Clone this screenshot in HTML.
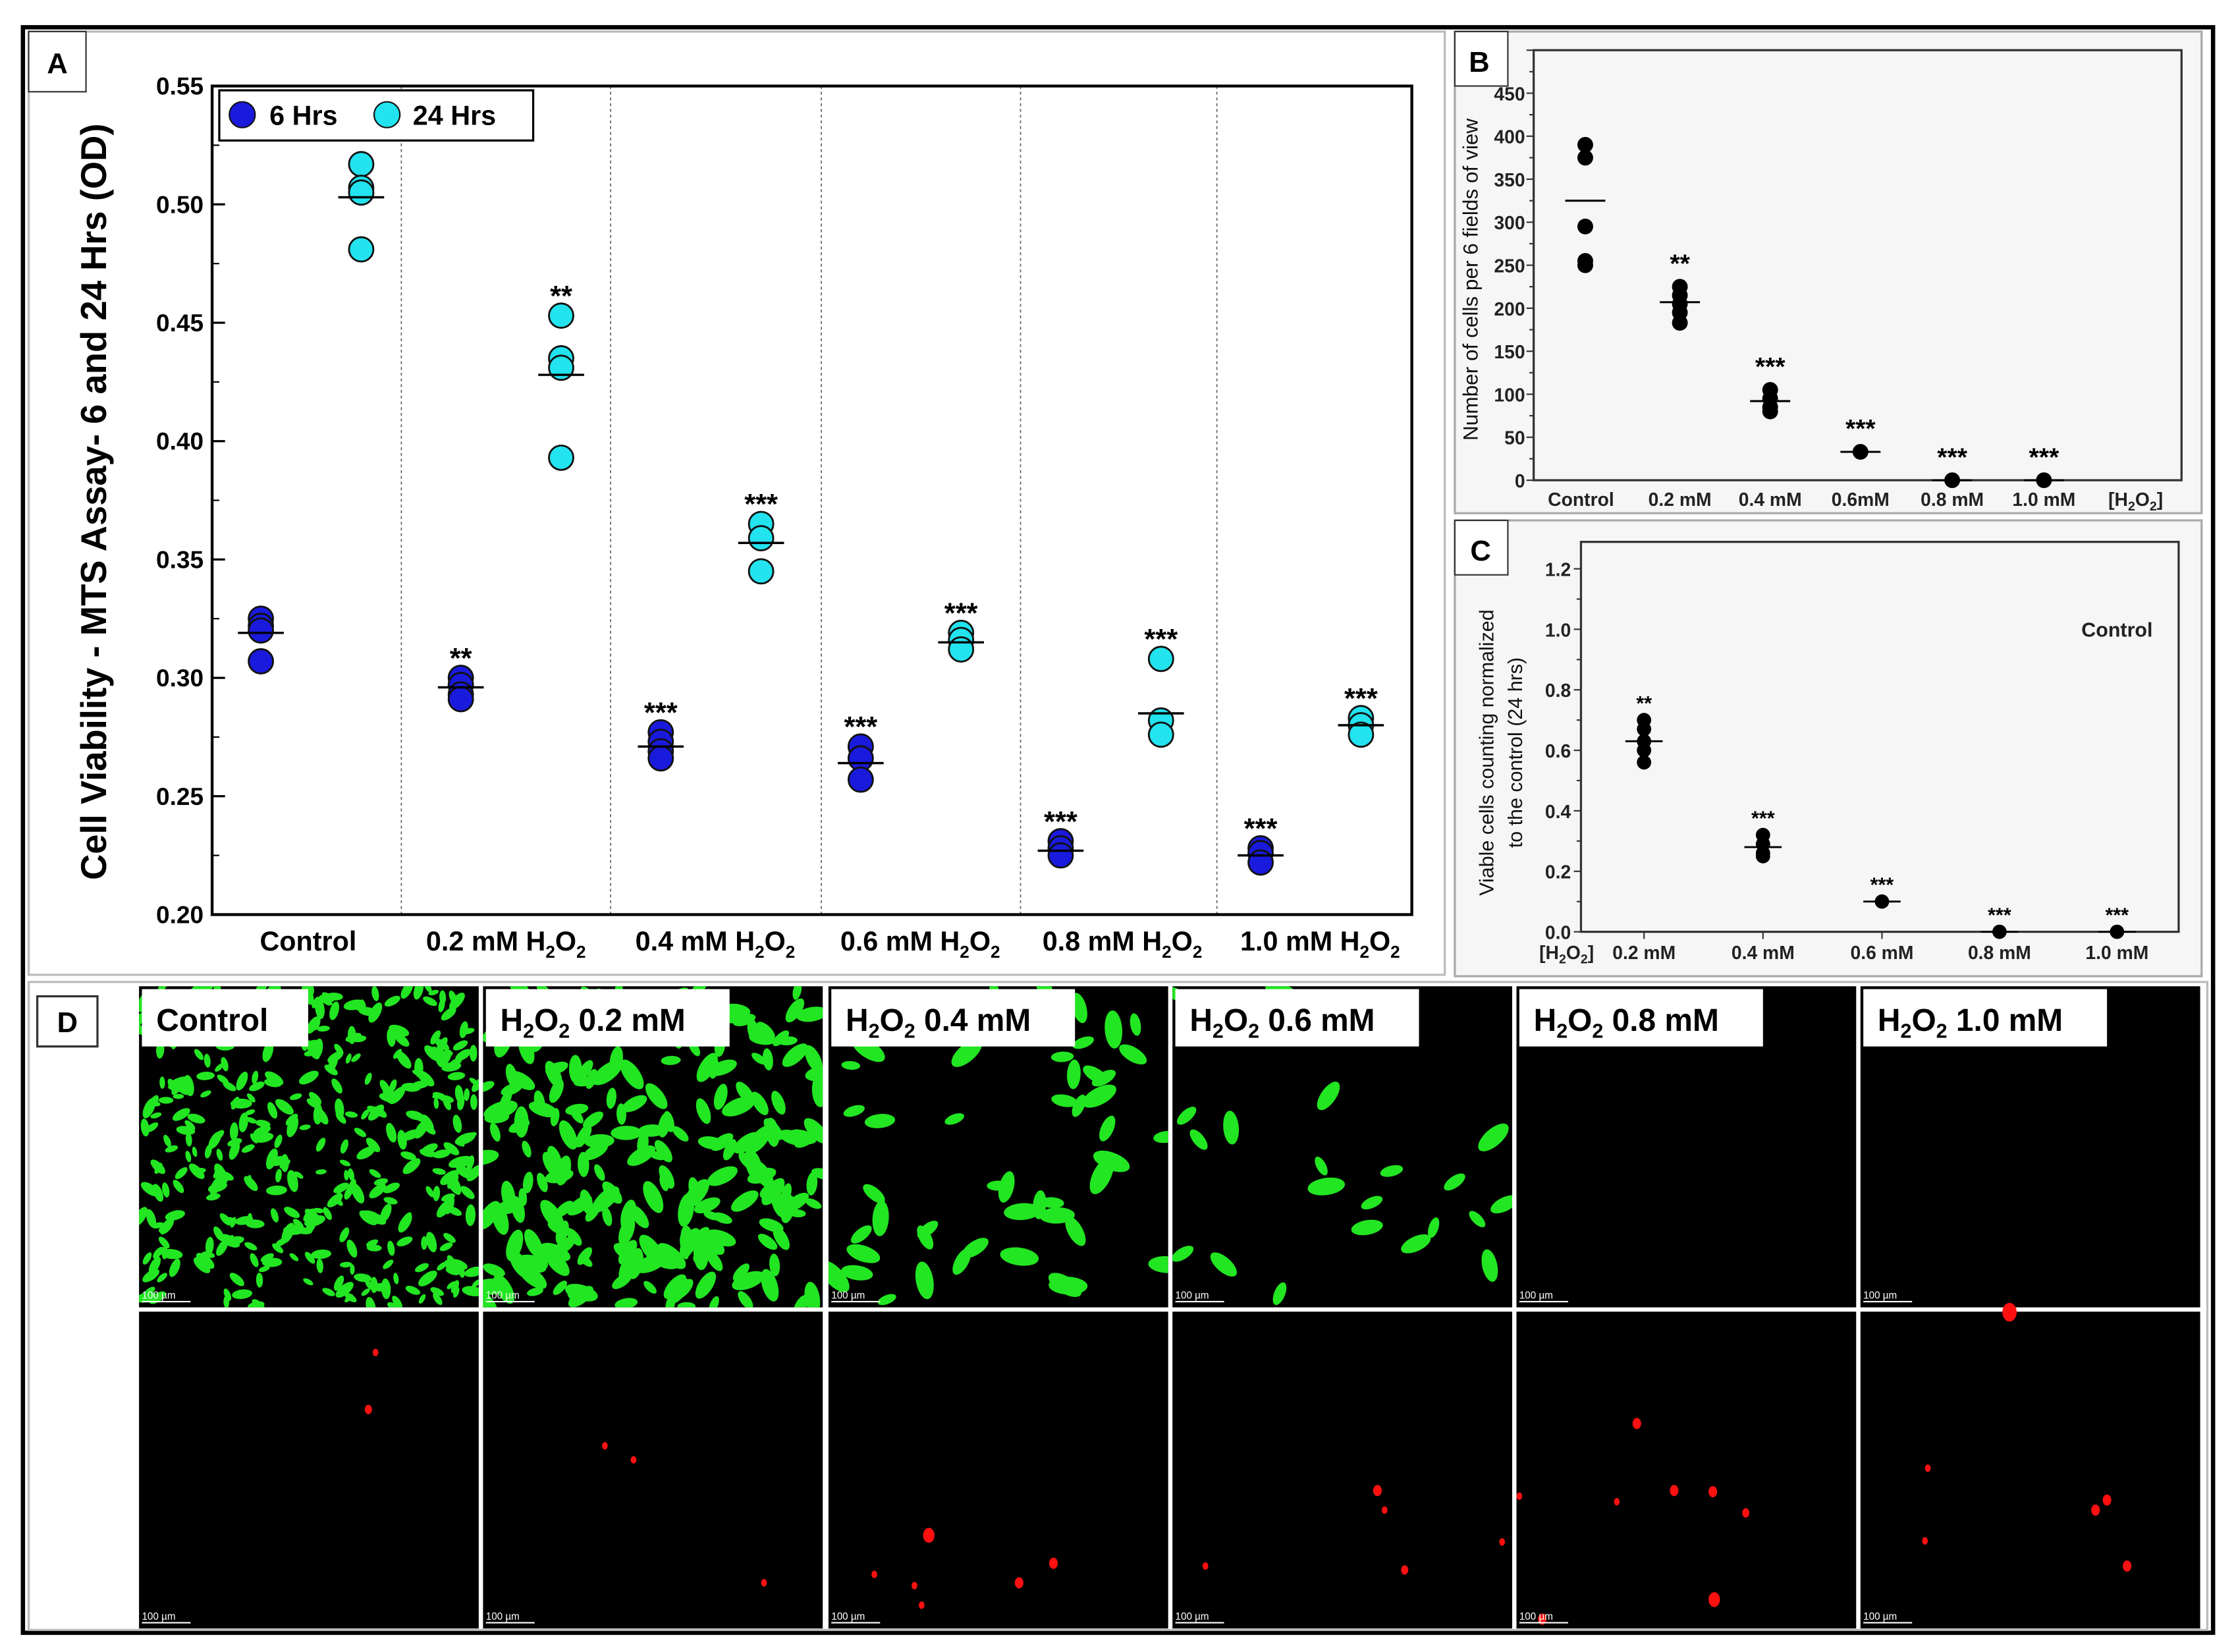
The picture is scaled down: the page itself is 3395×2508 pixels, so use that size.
<!DOCTYPE html>
<html><head><meta charset="utf-8">
<style>
html,body{margin:0;padding:0;background:#fff;}
svg{display:block;}
text{font-family:"Liberation Sans",sans-serif;}
</style></head>
<body>
<svg id="fig" width="3395" height="2508" viewBox="0 0 1560 1152.4" xmlns="http://www.w3.org/2000/svg">
  <rect x="0" y="0" width="1560" height="1153" fill="#fff"/>
  <rect x="16" y="19" width="1528" height="1120" fill="none" stroke="#000" stroke-width="3"/>
  <!-- panel boxes -->
  <rect x="20" y="22" width="988" height="658" fill="#fff" stroke="#bbb" stroke-width="1.5"/>
  <rect x="1015" y="22" width="521" height="336" fill="#f6f6f6" stroke="#aaa" stroke-width="1.5"/>
  <rect x="1015" y="363" width="521" height="318" fill="#f6f6f6" stroke="#aaa" stroke-width="1.5"/>
  <rect x="20" y="685" width="1520" height="452" fill="#fff" stroke="#bbb" stroke-width="1.5"/>
  <g id="gA"></g><g id="gB"></g><g id="gC"></g><g id="gD"></g>
  <!-- panel labels -->
  <rect x="20" y="22" width="40" height="42" fill="#fff" stroke="#333"/>
  <text x="40" y="51" text-anchor="middle" font-size="20" font-weight="bold">A</text>
  <rect x="1015" y="22" width="37" height="38" fill="#fff" stroke="#333"/>
  <text x="1032" y="50" text-anchor="middle" font-size="20" font-weight="bold">B</text>
  <rect x="1015" y="363" width="37" height="38" fill="#fff" stroke="#333"/>
  <text x="1033" y="391" text-anchor="middle" font-size="20" font-weight="bold">C</text>
</svg>
<script>
const NS="http://www.w3.org/2000/svg";
function mk(parent,tag,attrs,txt){const e=document.createElementNS(NS,tag);for(const k in attrs)e.setAttribute(k,attrs[k]);if(txt!==undefined)e.textContent=txt;parent.appendChild(e);return e;}

/* ---------- Panel A data ---------- */
const aCategories=["Control","0.2 mM","0.4 mM","0.6 mM","0.8 mM","1.0 mM"];
const a6h=[[0.325,0.322,0.320,0.307],[0.300,0.297,0.293,0.291],[0.277,0.273,0.269,0.266],[0.271,0.266,0.257],[0.231,0.228,0.225],[0.228,0.226,0.222]];
const a6hMean=[0.319,0.296,0.271,0.264,0.227,0.225];
const a24h=[[0.517,0.507,0.505,0.481],[0.453,0.435,0.431,0.393],[0.365,0.359,0.345],[0.319,0.316,0.312],[0.308,0.282,0.276],[0.283,0.280,0.276]];
const a24hMean=[0.503,0.428,0.357,0.315,0.285,0.280];
const a6hStars=["","**","***","***","***","***"];
const a24hStars=["","**","***","***","***","***"];
const aTicks=[0.20,0.25,0.30,0.35,0.40,0.45,0.50,0.55];

/* ---------- Panel B data ---------- */
const bCategories=["Control","0.2 mM","0.4 mM","0.6mM","0.8 mM","1.0 mM"];
const bValues=[[390,375,295,255,250],[225,215,205,195,183],[105,95,85,80],[33],[0],[0]];
const bMeans=[325,207,92,33,0,0];
const bStars=["","**","***","***","***","***"];
const bTicks=[0,50,100,150,200,250,300,350,400,450,500];

/* ---------- Panel C data ---------- */
const cCategories=["0.2 mM","0.4 mM","0.6 mM","0.8 mM","1.0 mM"];
const cValues=[[0.70,0.67,0.63,0.60,0.56],[0.32,0.29,0.26,0.25],[0.10],[0.0],[0.0]];
const cMeans=[0.63,0.28,0.10,0.0,0.0];
const cStars=["**","***","***","***","***"];
const cTicks=[0.0,0.2,0.4,0.6,0.8,1.0,1.2];

/* ---------- Panel A ---------- */
(function(){
const g=document.getElementById('gA');
const L=148,R=985,T=60,B=638,ymin=0.20,ymax=0.55;
const y=v=>B-(v-ymin)/(ymax-ymin)*(B-T);
const groupW=(R-L)/6.05;
const x6=i=>182+i*139.5, x24=i=>252+i*139.5;
// dividers
[280,426,573,712,849].forEach((dx,i)=>{const l=mk(g,'line',{x1:dx,y1:T,x2:dx,y2:B,stroke:'#666','stroke-width':0.8,'stroke-dasharray':'2,2'});

});
const fr=mk(g,'rect',{x:L,y:T,width:R-L,height:B-T,fill:'none',stroke:'#000','stroke-width':2});


aTicks.forEach(t=>{const yy=y(t);mk(g,'line',{x1:L,y1:yy,x2:L+9,y2:yy,stroke:'#000','stroke-width':1.5});
 const tx=mk(g,'text',{x:L-6,y:yy+6,'text-anchor':'end','font-size':17,'font-weight':'bold'},t.toFixed(2));
 
 });
for(let k=0;k<aTicks.length-1;k++){const yy=y(aTicks[k]+0.025);mk(g,'line',{x1:L,y1:yy,x2:L+5,y2:yy,stroke:'#000','stroke-width':1});}
const yt=mk(g,'text',{x:0,y:0,transform:'translate(74,350) rotate(-90)','text-anchor':'middle','font-size':25,'font-weight':'bold'},'Cell Viability - MTS Assay- 6 and 24 Hrs (OD)');


function series(vals,means,stars,xf,color,name){
 vals.forEach((arr,i)=>{
  arr.forEach(v=>{const c=mk(g,'circle',{cx:xf(i),cy:y(v),r:8.5,fill:color,stroke:'#111','stroke-width':1.3});
   
   });
  const m=mk(g,'line',{x1:xf(i)-16,y1:y(means[i]),x2:xf(i)+16,y2:y(means[i]),stroke:'#000','stroke-width':1.6});
  
  
  if(stars[i]){const s=mk(g,'text',{x:xf(i),y:y(Math.max(...arr))-7,'text-anchor':'middle','font-size':20,'font-weight':'bold'},stars[i]);
   
   }
 });
}
series(a6h,a6hMean,a6hStars,x6,'#1a1adc','6h');
series(a24h,a24hMean,a24hStars,x24,'#22e3ee','24h');
// x labels
const lx=[215,353,499,642,783,921];
aCategories.forEach((c,i)=>{
 const t=mk(g,'text',{x:lx[i],y:663,'text-anchor':'middle','font-size':19,'font-weight':'bold'});
 
 
 if(i===0){t.textContent=c;}else{
  mk(t,'tspan',{},c+' H');mk(t,'tspan',{'font-size':12,dy:5},'2');mk(t,'tspan',{dy:-5},'O');mk(t,'tspan',{'font-size':12,dy:5},'2');}
});
// legend
const lg=mk(g,'g',{});


mk(lg,'rect',{x:153,y:63,width:219,height:35,fill:'#fff',stroke:'#000','stroke-width':1.5});
mk(lg,'circle',{cx:169,cy:80,r:9,fill:'#1a1adc',stroke:'#111'});
mk(lg,'text',{x:188,y:87,'font-size':19,'font-weight':'bold'},'6 Hrs');
mk(lg,'circle',{cx:270,cy:80,r:9,fill:'#22e3ee',stroke:'#111'});
mk(lg,'text',{x:288,y:87,'font-size':19,'font-weight':'bold'},'24 Hrs');
})();

/* ---------- Panel B ---------- */
(function(){
const g=document.getElementById('gB');
const L=1070,R=1522,T=35,B=335,ymax=500;
const y=v=>B-v/ymax*(B-T);
const xs=[1106,1172,1235,1298,1362,1426];
const fr=mk(g,'rect',{x:L,y:T,width:R-L,height:B-T,fill:'none',stroke:'#333','stroke-width':1.5});


bTicks.forEach(t=>{const yy=y(t);mk(g,'line',{x1:L-5,y1:yy,x2:L,y2:yy,stroke:'#333'});
 if(t<=450){const tx=mk(g,'text',{x:L-6,y:yy+5,'text-anchor':'end','font-size':13,'font-weight':'bold',fill:'#222'},t);
 
 }});
for(let v=25;v<500;v+=50){mk(g,'line',{x1:L-3,y1:y(v),x2:L,y2:y(v),stroke:'#333'});}
const yt=mk(g,'text',{x:0,y:0,transform:'translate(1031,195) rotate(-90)','text-anchor':'middle','font-size':14.5,fill:'#111'},'Number of cells per 6 fields of view');


bValues.forEach((arr,i)=>{
 arr.forEach(v=>{const c=mk(g,'circle',{cx:xs[i],cy:y(v),r:5.5,fill:'#000'});
  
  });
 const m=mk(g,'line',{x1:xs[i]-14,y1:y(bMeans[i]),x2:xs[i]+14,y2:y(bMeans[i]),stroke:'#000','stroke-width':1.4});
 
 
 if(bStars[i]){const s=mk(g,'text',{x:xs[i],y:y(Math.max(...arr))-10,'text-anchor':'middle','font-size':18,'font-weight':'bold'},bStars[i]);
  
  }
 const t=mk(g,'text',{x:xs[i]-(i===0?3:0),y:353,'text-anchor':'middle','font-size':13,'font-weight':'bold',fill:'#222'},bCategories[i]);
 
 
});
const h=mk(g,'text',{x:1490,y:353,'text-anchor':'middle','font-size':13,'font-weight':'bold',fill:'#222'});


mk(h,'tspan',{},'[H');mk(h,'tspan',{'font-size':9,dy:3},'2');mk(h,'tspan',{dy:-3},'O');mk(h,'tspan',{'font-size':9,dy:3},'2');mk(h,'tspan',{dy:-3},']');
})();

/* ---------- Panel C ---------- */
(function(){
const g=document.getElementById('gC');
const L=1103,R=1520,T=378,B=650;
const y=v=>B-v*211;
const xs=[1147,1230,1313,1395,1477];
const fr=mk(g,'rect',{x:L,y:T,width:R-L,height:B-T,fill:'none',stroke:'#333','stroke-width':1.5});


cTicks.forEach(t=>{const yy=y(t);mk(g,'line',{x1:L-5,y1:yy,x2:L,y2:yy,stroke:'#333'});
 const tx=mk(g,'text',{x:L-7,y:yy+5,'text-anchor':'end','font-size':13,'font-weight':'bold',fill:'#222'},t.toFixed(1));
 
 });
for(let v=0.1;v<1.25;v+=0.2){mk(g,'line',{x1:L-3,y1:y(v),x2:L,y2:y(v),stroke:'#333'});}
const yt=mk(g,'text',{x:0,y:0,transform:'translate(1042,525) rotate(-90)','text-anchor':'middle','font-size':14,fill:'#111'});


mk(yt,'tspan',{x:0,dy:0},'Viable cells counting normalized');
mk(yt,'tspan',{x:0,dy:20},'to the control (24 hrs)');
cValues.forEach((arr,i)=>{
 mk(g,'line',{x1:xs[i],y1:B,x2:xs[i],y2:B+5,stroke:'#333'});
 arr.forEach(v=>{const c=mk(g,'circle',{cx:xs[i],cy:y(v),r:5,fill:'#000'});
  
  });
 const m=mk(g,'line',{x1:xs[i]-13,y1:y(cMeans[i]),x2:xs[i]+13,y2:y(cMeans[i]),stroke:'#000','stroke-width':1.3});
 
 
 const s=mk(g,'text',{x:xs[i],y:y(Math.max(...arr))-7,'text-anchor':'middle','font-size':14,'font-weight':'bold'},cStars[i]);
 
 
 const t=mk(g,'text',{x:xs[i],y:669,'text-anchor':'middle','font-size':13,'font-weight':'bold',fill:'#222'},cCategories[i]);
 
 
});
const h=mk(g,'text',{x:1093,y:669,'text-anchor':'middle','font-size':13,'font-weight':'bold',fill:'#222'});


mk(h,'tspan',{},'[H');mk(h,'tspan',{'font-size':9,dy:3},'2');mk(h,'tspan',{dy:-3},'O');mk(h,'tspan',{'font-size':9,dy:3},'2');mk(h,'tspan',{dy:-3},']');
const ct=mk(g,'text',{x:1477,y:444,'text-anchor':'middle','font-size':14,'font-weight':'bold',fill:'#222'},'Control');


})();

/* ---------- Panel D (micrographs) ---------- */
(function(){
const g=document.getElementById('gD');
let seed=12345;const rnd=()=>{seed=(seed*16807)%2147483647;return seed/2147483647;};
const cols=[97,337,578,818,1058,1298], W=237;
const greenCount=[420,230,55,22,0,0];
const greenSize=[5,8,9,9,0,0];
const reds=[[[165,73,2],[160,175,2.5]],[[85,240,2],[105,265,2],[196,485,2]],[[70,400,4],[157,450,3],[32,470,2],[60,490,2],[133,485,3],[65,525,2]],[[143,320,3],[148,355,2],[23,455,2],[162,462,2.5],[230,412,2]],[[84,200,3],[110,320,3],[137,322,3],[160,360,2.5],[70,340,2],[2,330,2],[138,515,4],[18,550,3]],[[104,1,5],[47,280,2],[172,337,3],[164,355,3],[186,455,3],[45,410,2]]];
const labels=["Control","0.2 mM","0.4 mM","0.6 mM","0.8 mM","1.0 mM"];
const labW=[116,170,170,170,170,170];
cols.forEach((x0,c)=>{
 const top=mk(g,'rect',{x:x0,y:688,width:W,height:224,fill:'#000'});
 
 
 const clipId='cl'+c;const cp=mk(g,'clipPath',{id:clipId});mk(cp,'rect',{x:x0,y:688,width:W,height:224});
 const cg=mk(g,'g',{'clip-path':'url(#'+clipId+')'});
 for(let k=0;k<greenCount[c];k++){
  const cx=x0+rnd()*W, cy=688+rnd()*224, s=greenSize[c]*(0.6+rnd()*0.7);
  mk(cg,'ellipse',{cx:cx,cy:cy,rx:s*0.55,ry:s*1.2,fill:'#22e622',transform:`rotate(${(rnd()*180-90).toFixed(0)} ${cx.toFixed(1)} ${cy.toFixed(1)})`});
 }
 const bot=mk(g,'rect',{x:x0,y:915,width:W,height:221,fill:'#000'});
 
 
 reds[c].forEach(r=>{mk(g,'ellipse',{cx:x0+r[0],cy:915+r[1]*0.39,rx:r[2],ry:r[2]*1.3,fill:'#ff1010'});});
 [910,1134].forEach(yy=>{mk(g,'text',{x:x0+2,y:yy-4,'font-size':7,fill:'#fff'},'100 µm');mk(g,'line',{x1:x0+2,y1:yy-2,x2:x0+36,y2:yy-2,stroke:'#fff','stroke-width':1});});
 const lb=mk(g,'rect',{x:x0+2,y:690,width:labW[c],height:40,fill:'#fff'});
 
 
 const t=mk(g,'text',{x:x0+12,y:719,'font-size':22,'font-family':'"Liberation Sans Narrow","Liberation Sans",sans-serif','font-weight':'bold'});
 
 
 if(c===0)t.textContent=labels[0];else{mk(t,'tspan',{},'H');mk(t,'tspan',{'font-size':14,dy:5},'2');mk(t,'tspan',{dy:-5},'O');mk(t,'tspan',{'font-size':14,dy:5},'2');mk(t,'tspan',{dy:-5},' '+labels[c]);}
});
mk(g,'rect',{x:26,y:695,width:42,height:35,fill:'#fff',stroke:'#333','stroke-width':1.5});
const d=mk(g,'text',{x:47,y:720,'text-anchor':'middle','font-size':20,'font-weight':'bold'},'D');


})();
</script>
</body></html>
